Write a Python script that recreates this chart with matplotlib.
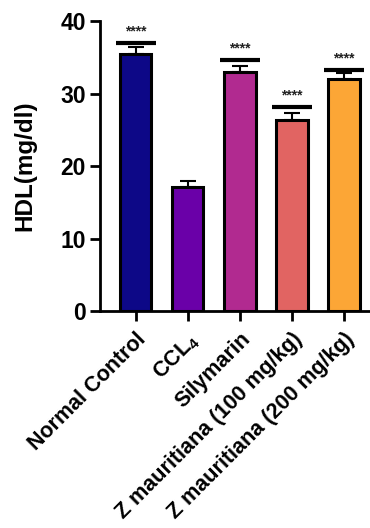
import matplotlib
matplotlib.use("Agg")
import matplotlib.pyplot as plt

plt.rcParams['font.family'] = ['Liberation Sans', 'DejaVu Sans']
plt.rcParams['font.weight'] = 'bold'
plt.rcParams['mathtext.fontset'] = 'custom'
plt.rcParams['mathtext.rm'] = 'Liberation Sans:bold'
plt.rcParams['mathtext.bf'] = 'Liberation Sans:bold'

groups = ["Normal Control", r"CCL$_4$", "Silymarin",
          "Z mauritiana (100 mg/kg)", "Z mauritiana (200 mg/kg)"]
hdl_mean = [35.5, 17.1, 33.0, 26.3, 32.0]
hdl_sem = [0.9, 0.8, 0.8, 1.0, 0.9]
sig_level = [37.0, None, 34.6, 28.1, 33.3]
sig_text = ["****", "", "****", "****", "****"]
colors = ["#0D0887", "#6A00A8", "#B12A90", "#E16462", "#FCA636"]

fig = plt.figure(figsize=(3.70, 5.28), dpi=100)
ax = fig.add_axes([0.270, 0.411, 0.730, 0.549])

x = range(len(groups))
ax.bar(x, hdl_mean, width=0.6, color=colors, edgecolor="black", linewidth=2.2, zorder=2)
ax.errorbar(x, hdl_mean, yerr=[[0] * len(hdl_sem), hdl_sem], fmt="none",
            ecolor="black", elinewidth=1.5, capsize=6, capthick=1.5, zorder=1)

# significance markers above the treated groups
for i, (lvl, txt) in enumerate(zip(sig_level, sig_text)):
    if lvl is None:
        continue
    ax.hlines(lvl, i - 0.39, i + 0.39, color="black", linewidth=3)
    ax.text(i, lvl + 1.6, txt, ha="center", va="center", fontsize=10, color="#222222")

ax.set_xlim(-0.69, 4.5)
ax.set_ylim(0, 40)
ax.set_yticks([0, 10, 20, 30, 40])
ax.set_xticks(list(x))
ax.set_xticklabels(groups, rotation=45, ha="right", rotation_mode="anchor", fontsize=15.5)
ax.tick_params(axis="y", labelsize=16.5, width=2, length=7, pad=3)
ax.tick_params(axis="x", width=2, length=7, pad=6)
ax.set_ylabel("HDL(mg/dl)", fontsize=17.5, fontweight="bold", labelpad=17)

for side in ["top", "right"]:
    ax.spines[side].set_visible(False)
for side in ["left", "bottom"]:
    ax.spines[side].set_linewidth(2)

fig.savefig("out.png", dpi=100)
